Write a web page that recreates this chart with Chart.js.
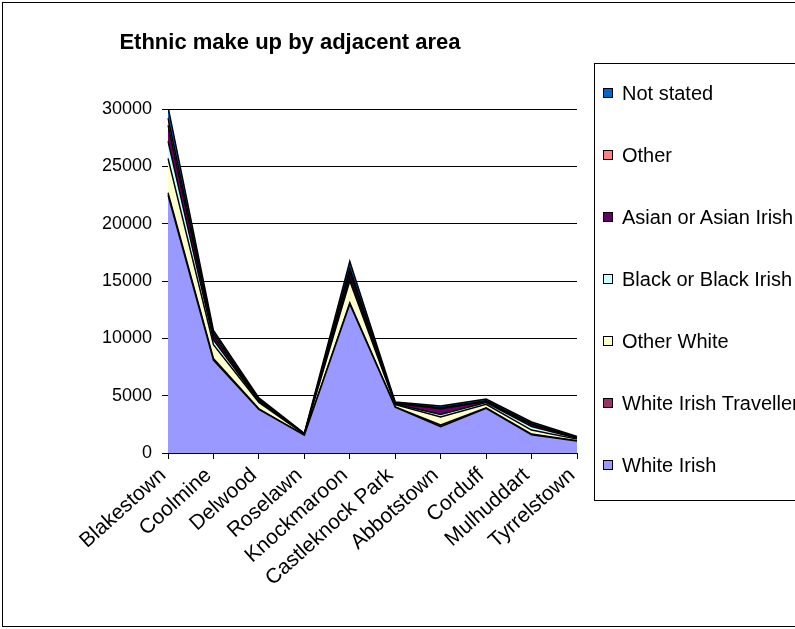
<!DOCTYPE html>
<html>
<head>
<meta charset="utf-8">
<script src="https://cdn.jsdelivr.net/npm/chart.js@4.4.1/dist/chart.umd.min.js"></script>
<style>
  html,body{margin:0;padding:0;background:#fff;overflow:hidden;width:795px;height:629px;}
  #frame{position:absolute;left:2px;top:2px;width:840px;height:623px;border:1px solid #000;overflow:hidden;background:#fff;}
  #frame canvas{position:absolute;left:0;top:0;}
  #legend{position:absolute;left:591px;top:60px;width:240px;height:436px;border:1px solid #000;
    font-family:"Liberation Sans",Arial,sans-serif;font-size:20px;color:#000;}
  .item{position:absolute;left:8px;height:22px;display:flex;align-items:center;white-space:nowrap;}
  .item i{display:block;width:8px;height:8px;border:1px solid #000;margin-right:9px;}
</style>
</head>
<body>
<div id="frame">
  <canvas id="chart" width="840" height="623" style="width:840px;height:623px"></canvas>
  <div id="legend"></div>
</div>
<script>
// categories (areas)
const areas = ['Blakestown','Coolmine','Delwood','Roselawn','Knockmaroon','Castleknock Park','Abbotstown','Corduff','Mulhuddart','Tyrrelstown'];

// series, bottom of the stack first
const whiteIrish      = [22500, 8100, 3800, 1550, 13000, 4000, 2300, 3900, 1600, 1050];
const traveller       = [  200,  150,   50,   10,   100,   20,  150,   50,   50,   10];
const otherWhite      = [ 3000, 1200,  550,   80,  1900,  200,  700,  300,  350,  150];
const blackIrish      = [ 1500,  400,  100,   15,   300,   50,  200,  150,  300,   80];
const asianIrish      = [ 1400,  350,  100,   15,   500,   60,  500,  100,  150,   60];
const otherEthnic     = [  600,  250,   80,   10,   300,   40,  100,   50,  100,   30];
const notStated       = [ 1000,  250,  120,   30,   600,   80,  150,  150,  150,   70];

const yTicks = [0, 5000, 10000, 15000, 20000, 25000, 30000];

const font = '"Liberation Sans", Arial, sans-serif';

function layer(label, data, color, idx){
  return {
    label, data,
    backgroundColor: color,
    borderColor: '#000',
    borderWidth: 1.5,
    pointRadius: 0,
    tension: 0,
    fill: idx === 0 ? 'origin' : '-1'
  };
}

const datasets = [
  layer('White Irish', whiteIrish, '#9999FF', 0),
  layer('White Irish Traveller', traveller, '#993366', 1),
  layer('Other White', otherWhite, '#FFFFCC', 2),
  layer('Black or Black Irish', blackIrish, '#CCFFFF', 3),
  layer('Asian or Asian Irish', asianIrish, '#660066', 4),
  layer('Other', otherEthnic, '#FF8080', 5),
  layer('Not stated', notStated, '#0066CC', 6)
];

const chart = new Chart(document.getElementById('chart'), {
  type: 'line',
  data: { labels: areas, datasets },
  options: {
    responsive: false,
    animation: false,
    layout: { padding: { left: 0, right: 266, top: 26.4, bottom: 0 } },
    plugins: {
      legend: { display: false },
      tooltip: { enabled: false },
      title: {
        display: true,
        text: 'Ethnic make up by adjacent area',
        color: '#000',
        font: { family: font, size: 22, weight: 'bold', lineHeight: 1.2 },
        padding: { top: 0, bottom: 53.2 }
      }
    },
    scales: {
      x: {
        offset: false,
        afterFit: s => { s.height = 173; },
        grid: { drawOnChartArea: false, drawTicks: true, tickLength: 6, color: '#000' },
        border: { color: '#000', width: 1 },
        ticks: { color: '#000', font: { family: font, size: 21 }, minRotation: 42, maxRotation: 42,
                 padding: 4, labelOffset: -5, autoSkip: false }
      },
      y: {
        stacked: true,
        min: 0, max: 30000,
        afterFit: s => { s.width = 165; },
        afterBuildTicks: s => { s.ticks = yTicks.map(v => ({ value: v })); },
        grid: { color: '#000', lineWidth: 1, tickLength: 6 },
        border: { color: '#000', width: 1 },
        ticks: { color: '#000', font: { family: font, size: 18 }, padding: 10,
                 callback: v => String(v) }
      }
    }
  }
});

// legend, top of the stack first
const legend = document.getElementById('legend');
chart.data.datasets.slice().reverse().forEach((ds, i) => {
  const row = document.createElement('div');
  row.className = 'item';
  row.style.top = (18 + i * 62) + 'px';
  row.innerHTML = `<i style="background:${ds.backgroundColor}"></i><span>${ds.label}</span>`;
  legend.appendChild(row);
});
</script>
</body>
</html>
